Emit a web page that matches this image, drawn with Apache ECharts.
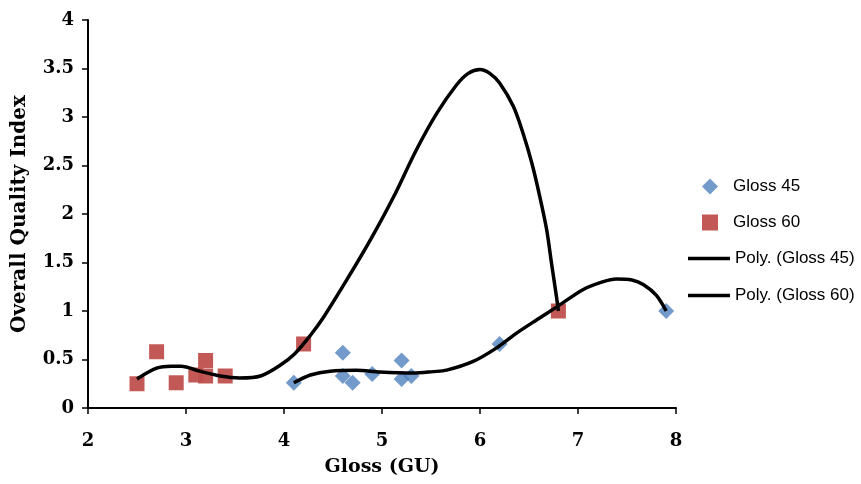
<!DOCTYPE html>
<html>
<head>
<meta charset="utf-8">
<script src="https://cdn.jsdelivr.net/npm/echarts@6/dist/echarts.min.js"></script>
<style>html,body{margin:0;padding:0;background:#fff}#c{width:861px;height:484px}</style>
</head>
<body>
<div id="c"></div>
<script>
// Gloss 45 observations
var gloss45X = [4.1, 4.6, 4.6, 4.7, 4.9, 5.2, 5.2, 5.3, 6.2, 7.9];
var gloss45Y = [0.26, 0.57, 0.33, 0.26, 0.35, 0.49, 0.30, 0.33, 0.66, 1.0];
// Gloss 60 observations
var gloss60X = [2.5, 2.7, 2.9, 3.1, 3.2, 3.2, 3.4, 4.2, 6.8];
var gloss60Y = [0.25, 0.58, 0.26, 0.34, 0.49, 0.33, 0.33, 0.66, 1.0];
// Polynomial trendlines
var poly45X = [4.1, 4.27, 4.47, 4.74, 4.98, 5.32, 5.52, 5.66, 5.93, 6.17, 6.37, 6.58, 6.78, 7.05, 7.25, 7.39, 7.55, 7.67, 7.8, 7.9];
var poly45Y = [0.26, 0.34, 0.38, 0.39, 0.37, 0.36, 0.375, 0.39, 0.48, 0.62, 0.77, 0.91, 1.04, 1.22, 1.30, 1.33, 1.32, 1.27, 1.16, 1.0];
var poly60X = [2.5, 2.7, 2.85, 2.95, 3.14, 3.35, 3.55, 3.76, 3.96, 4.11, 4.27, 4.4, 4.64, 4.88, 5.12, 5.35, 5.56, 5.76, 5.88, 6.0, 6.1, 6.2, 6.34, 6.44, 6.53, 6.61, 6.68, 6.73, 6.78, 6.8];
var poly60Y = [0.30, 0.41, 0.43, 0.43, 0.38, 0.33, 0.31, 0.33, 0.44, 0.56, 0.75, 0.93, 1.32, 1.73, 2.18, 2.66, 3.04, 3.33, 3.45, 3.49, 3.45, 3.35, 3.11, 2.83, 2.52, 2.18, 1.84, 1.49, 1.15, 1.0];
var seriesNames = ['Gloss 45', 'Gloss 60', 'Poly. (Gloss 45)', 'Poly. (Gloss 60)'];
var xAxisTitle = 'Gloss (GU)';
var yAxisTitle = 'Overall Quality Index';

function zip(a, b) { return a.map(function (v, i) { return [v, b[i]]; }); }

var serif = '"DejaVu Serif", "Liberation Serif", serif';
var sans = '"Liberation Sans", "Open Sans", sans-serif';
var chart = echarts.init(document.getElementById('c'), null, { renderer: 'canvas' });
chart.setOption({
  animation: false,
  backgroundColor: '#ffffff',
  grid: { left: 88, right: 185, top: 20, bottom: 76, containLabel: false },
  legend: [
    {
      orient: 'vertical',
      left: 702,
      top: 178,
      padding: 0,
      itemWidth: 16,
      itemHeight: 16,
      itemGap: 19,
      textStyle: { fontFamily: sans, fontSize: 17, color: '#000', padding: [0, 0, 0, 10] },
      data: [
        { name: seriesNames[0], icon: 'diamond' },
        { name: seriesNames[1], icon: 'rect' }
      ]
    },
    {
      orient: 'vertical',
      left: 688,
      top: 250,
      padding: 0,
      itemWidth: 42,
      itemHeight: 3.5,
      itemGap: 20,
      textStyle: { fontFamily: sans, fontSize: 17, color: '#000' },
      data: [
        { name: seriesNames[2], icon: 'rect' },
        { name: seriesNames[3], icon: 'rect' }
      ]
    }
  ],
  xAxis: {
    type: 'value', min: 2, max: 8, interval: 1,
    name: xAxisTitle, nameLocation: 'middle', nameGap: 50,
    nameTextStyle: { fontFamily: serif, fontWeight: 'bold', fontSize: 19, color: '#000' },
    axisLine: { show: true, onZero: false, lineStyle: { color: '#000', width: 2 } },
    axisTick: { show: true, length: 6, lineStyle: { color: '#000', width: 1.5 } },
    axisLabel: { margin: 24, fontFamily: serif, fontWeight: 'bold', fontSize: 18, color: '#000' },
    splitLine: { show: false }
  },
  yAxis: {
    type: 'value', min: 0, max: 4, interval: 0.5,
    name: yAxisTitle, nameLocation: 'middle', nameGap: 58, nameRotate: 90,
    nameTextStyle: { fontFamily: serif, fontWeight: 'bold', fontSize: 20, color: '#000' },
    axisLine: { show: true, onZero: false, lineStyle: { color: '#000', width: 2 } },
    axisTick: { show: true, length: 6, lineStyle: { color: '#000', width: 1.5 } },
    axisLabel: { margin: 14, fontFamily: serif, fontWeight: 'bold', fontSize: 18, color: '#000' },
    splitLine: { show: false }
  },
  series: [
    {
      name: seriesNames[0], type: 'scatter', symbol: 'diamond', symbolSize: 16,
      itemStyle: { color: '#4F81BD' }, data: zip(gloss45X, gloss45Y), z: 3
    },
    {
      name: seriesNames[1], type: 'scatter', symbol: 'rect', symbolSize: 15,
      itemStyle: { color: '#C0504D', opacity: 0.95 }, data: zip(gloss60X, gloss60Y), z: 3
    },
    {
      name: seriesNames[2], type: 'line', smooth: 0.3, symbol: 'none', showSymbol: false,
      lineStyle: { color: '#000', width: 3.5 }, itemStyle: { color: '#000' },
      data: zip(poly45X, poly45Y), z: 4
    },
    {
      name: seriesNames[3], type: 'line', smooth: 0.3, symbol: 'none', showSymbol: false,
      lineStyle: { color: '#000', width: 3.5 }, itemStyle: { color: '#000' },
      data: zip(poly60X, poly60Y), z: 4
    }
  ]
});
</script>
</body>
</html>
